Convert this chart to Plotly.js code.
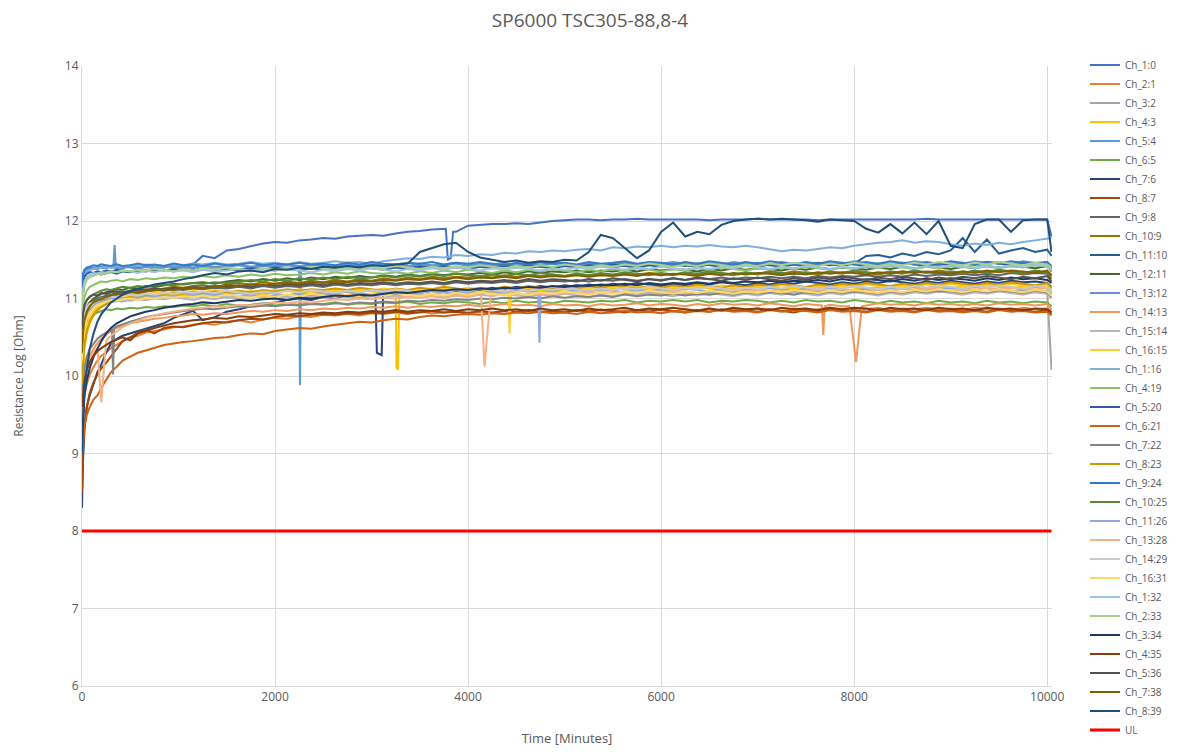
<!DOCTYPE html>
<html>
<head>
<meta charset="utf-8">
<script src="https://cdn.plot.ly/plotly-3.0.1.min.js"></script>
<style>html,body{margin:0;padding:0;background:#fff;}#chart{width:1180px;height:754px;}</style>
</head>
<body>
<div id="chart"></div>
<script>
// Time axis (minutes)
const time = [0,10,25,50,80,120,160,200,250,300,
360,420,500,580,660,750,850,950,1050,1150,
1250,1375,1500,1625,1750,1875,2000,2125,
2250,2375,2500,2625,2750,2875,3000,3125,
3250,3375,3500,3625,3750,3875,4000,4125,
4250,4375,4500,4625,4750,4875,5000,5125,
5250,5375,5500,5625,5750,5875,6000,6125,
6250,6375,6500,6625,6750,6875,7000,7125,
7250,7375,7500,7625,7750,7875,8000,8125,
8250,8375,8500,8625,8750,8875,9000,9125,
9250,9375,9500,9625,9750,9875,10000,10045];

const ch1_0 = [11.05,11.3,11.36,11.38,11.4,11.38,11.41,11.39,11.42,11.4,
11.41,11.39,11.42,11.4,11.43,11.41,11.4,11.43,11.42,11.44,
11.55,11.52,11.62,11.64,11.68,11.71,11.73,11.72,
11.75,11.76,11.78,11.77,11.8,11.81,11.82,11.81,
11.84,11.86,11.87,11.89,11.9,11.86,11.94,11.95,
11.96,11.96,11.97,11.96,11.98,12.0,12.01,12.02,
12.02,12.01,12.02,12.02,12.03,12.02,12.02,12.02,
12.02,12.02,12.01,12.02,12.02,12.02,12.03,12.02,
12.02,12.02,12.02,12.01,12.02,12.02,12.02,12.02,
12.02,12.02,12.02,12.02,12.03,12.02,12.02,12.02,
12.02,12.02,12.02,12.02,12.02,12.02,12.02,11.8];
const ch2_1 = [9.3,9.55,9.75,9.9,10.02,10.12,10.2,10.26,10.3,10.36,
10.4,10.45,10.5,10.52,10.56,10.58,10.6,10.63,10.64,10.66,
10.68,10.66,10.7,10.72,10.69,10.73,10.75,10.74,
10.77,10.76,10.79,10.78,10.8,10.78,10.81,10.8,
10.82,10.8,10.83,10.81,10.82,10.84,10.82,10.83,
10.81,10.84,10.83,10.85,10.82,10.84,10.83,10.85,
10.84,10.86,10.83,10.85,10.84,10.86,10.85,10.83,
10.86,10.85,10.87,10.84,10.86,10.85,10.87,10.86,
10.84,10.87,10.85,10.86,10.88,10.85,10.87,10.86,
10.88,10.85,10.87,10.86,10.88,10.86,10.87,10.85,
10.88,10.86,10.87,10.85,10.88,10.86,10.87,10.84];
const ch3_2 = [10.0,10.3,10.5,10.65,10.75,10.82,10.87,10.9,10.93,10.95,
10.97,10.96,10.99,11.0,10.98,11.01,11.0,11.02,11.01,11.03,
11.02,11.04,11.01,11.03,11.05,11.02,11.04,11.03,
11.05,11.03,11.06,11.04,11.05,11.07,11.04,11.06,
11.05,11.07,11.04,11.06,11.08,11.05,11.07,11.06,
11.08,11.06,11.07,11.05,11.08,11.06,11.09,11.07,
11.06,11.08,11.07,11.09,11.06,11.08,11.07,11.09,
11.08,11.06,11.09,11.07,11.08,11.1,11.07,11.09,
11.08,11.1,11.07,11.09,11.08,11.1,11.08,11.09,
11.07,11.1,11.08,11.09,11.11,11.08,11.1,11.09,
11.11,11.08,11.1,11.09,11.11,11.09,11.1,10.08];
const ch4_3 = [9.8,10.1,10.35,10.55,10.68,10.78,10.85,10.9,10.93,10.96,
10.98,11.0,11.02,11.01,11.03,11.05,11.03,11.06,11.04,11.07,
11.05,11.08,11.06,11.09,11.07,11.05,11.08,11.1,
11.07,11.09,11.06,11.1,11.08,11.11,11.09,11.07,
11.1,11.08,11.11,11.09,11.12,11.1,11.08,11.11,
11.09,11.12,11.1,11.13,11.11,11.09,11.12,11.1,
11.13,11.11,11.14,11.12,11.1,11.13,11.11,11.14,
11.12,11.15,11.13,11.11,11.14,11.12,11.15,11.13,
11.11,11.14,11.12,11.15,11.13,11.16,11.14,11.12,
11.15,11.13,11.16,11.14,11.12,11.15,11.13,11.16,
11.14,11.17,11.15,11.13,11.16,11.14,11.17,11.1];
const ch5_4 = [10.9,11.2,11.3,11.36,11.38,11.4,11.39,11.41,11.4,11.42,
11.4,11.42,11.41,11.43,11.4,11.42,11.41,11.43,11.42,11.4,
11.43,11.41,11.42,11.44,11.41,11.43,11.42,11.44,
11.42,11.44,11.43,11.41,11.44,11.42,11.45,11.43,
11.44,11.42,11.45,11.43,11.44,11.46,11.43,11.45,
11.44,11.46,11.43,11.45,11.44,11.46,11.45,11.43,
11.46,11.44,11.45,11.47,11.44,11.46,11.45,11.47,
11.45,11.43,11.46,11.44,11.47,11.45,11.46,11.44,
11.47,11.45,11.46,11.44,11.47,11.45,11.48,11.46,
11.44,11.47,11.45,11.48,11.46,11.44,11.47,11.45,
11.48,11.46,11.47,11.45,11.48,11.46,11.47,11.4];
const ch6_5 = [10.3,10.5,10.62,10.7,10.75,10.8,10.82,10.84,10.86,10.85,
10.87,10.86,10.88,10.87,10.89,10.88,10.9,10.89,10.91,10.9,
10.92,10.9,10.93,10.91,10.92,10.94,10.91,10.93,
10.92,10.94,10.93,10.95,10.92,10.94,10.93,10.95,
10.94,10.96,10.93,10.95,10.94,10.96,10.95,10.93,
10.96,10.94,10.97,10.95,10.96,10.94,10.97,10.96,
10.95,10.97,10.96,10.98,10.95,10.97,10.96,10.98,
10.96,10.98,10.95,10.97,10.96,10.98,10.97,10.95,
10.97,10.95,10.98,10.96,10.97,10.95,10.98,10.96,
10.94,10.97,10.95,10.96,10.94,10.97,10.95,10.96,
10.94,10.97,10.95,10.96,10.94,10.96,10.95,10.9];
const ch7_6 = [8.3,8.9,9.3,9.6,9.75,9.9,10.05,10.15,10.3,10.42,
10.48,10.52,10.55,10.58,10.6,10.64,10.68,10.75,10.8,10.84,
10.72,10.76,10.83,10.86,10.9,10.93,10.95,10.98,
11.0,10.98,11.02,11.01,11.04,11.02,11.05,11.08,
11.06,11.09,11.07,11.1,11.12,11.1,11.13,11.11,
11.14,11.12,11.15,11.13,11.16,11.14,11.17,11.15,
11.18,11.16,11.19,11.17,11.2,11.18,11.16,11.19,
11.17,11.2,11.18,11.21,11.19,11.17,11.2,11.18,
11.21,11.19,11.22,11.2,11.18,11.21,11.19,11.22,
11.2,11.23,11.21,11.19,11.22,11.2,11.23,11.21,
11.19,11.22,11.2,11.23,11.21,11.22,11.2,11.15];
const ch8_7 = [8.5,9.0,9.35,9.6,9.78,9.92,10.02,10.1,10.17,10.25,
10.35,10.45,10.5,10.56,10.6,10.55,10.62,10.64,10.63,10.66,
10.68,10.7,10.69,10.72,10.74,10.73,10.76,10.78,
10.77,10.79,10.8,10.79,10.81,10.8,10.82,10.81,
10.83,10.81,10.82,10.84,10.82,10.83,10.81,10.84,
10.82,10.84,10.83,10.85,10.83,10.84,10.82,10.85,
10.83,10.85,10.84,10.82,10.85,10.83,10.86,10.84,
10.82,10.85,10.83,10.86,10.84,10.85,10.83,10.86,
10.84,10.82,10.85,10.83,10.86,10.84,10.85,10.83,
10.86,10.84,10.85,10.83,10.86,10.84,10.85,10.83,
10.85,10.83,10.86,10.84,10.85,10.83,10.85,10.8];
const ch9_8 = [10.5,10.7,10.82,10.9,10.95,10.98,11.0,11.02,11.04,11.05,
11.07,11.06,11.08,11.1,11.09,11.11,11.1,11.12,11.11,11.13,
11.12,11.14,11.13,11.15,11.13,11.16,11.14,11.16,
11.15,11.17,11.15,11.18,11.16,11.18,11.17,11.19,
11.17,11.19,11.18,11.2,11.18,11.21,11.19,11.21,
11.2,11.22,11.2,11.23,11.21,11.23,11.22,11.24,
11.22,11.24,11.23,11.25,11.23,11.25,11.24,11.26,
11.24,11.26,11.25,11.27,11.25,11.27,11.26,11.28,
11.26,11.28,11.26,11.29,11.27,11.29,11.28,11.3,
11.28,11.3,11.28,11.31,11.29,11.31,11.3,11.32,
11.3,11.32,11.3,11.33,11.31,11.33,11.32,11.25];
const ch10_9 = [10.2,10.45,10.62,10.75,10.84,10.9,10.95,10.98,11.0,11.03,
11.05,11.07,11.09,11.1,11.12,11.11,11.13,11.15,11.14,11.16,
11.17,11.15,11.18,11.2,11.18,11.21,11.19,11.22,
11.2,11.23,11.21,11.24,11.22,11.25,11.23,11.26,
11.24,11.27,11.25,11.28,11.26,11.28,11.27,11.29,
11.27,11.3,11.28,11.3,11.29,11.31,11.29,11.32,
11.3,11.32,11.3,11.33,11.31,11.33,11.32,11.3,
11.33,11.31,11.34,11.32,11.3,11.33,11.31,11.34,
11.32,11.35,11.33,11.31,11.34,11.32,11.35,11.33,
11.31,11.34,11.32,11.35,11.33,11.36,11.34,11.32,
11.35,11.33,11.36,11.34,11.32,11.35,11.33,11.28];
const ch11_10 = [10.8,11.05,11.18,11.25,11.28,11.3,11.32,11.31,11.33,11.34,
11.32,11.35,11.34,11.36,11.35,11.37,11.36,11.38,11.37,11.36,
11.38,11.36,11.39,11.37,11.4,11.38,11.36,11.39,
11.37,11.4,11.38,11.41,11.39,11.37,11.4,11.38,
11.41,11.39,11.42,11.4,11.38,11.41,11.39,11.42,
11.4,11.43,11.41,11.39,11.42,11.4,11.43,11.41,
11.44,11.42,11.4,11.43,11.41,11.44,11.42,11.45,
11.43,11.41,11.44,11.42,11.45,11.43,11.41,11.44,
11.42,11.45,11.43,11.46,11.44,11.42,11.45,11.55,
11.56,11.53,11.58,11.55,11.6,11.57,11.62,11.78,
11.6,11.76,11.58,11.62,11.65,11.6,11.63,11.55];
const ch12_11 = [10.4,10.62,10.78,10.88,10.95,11.0,11.03,11.06,11.08,11.1,
11.12,11.11,11.14,11.13,11.16,11.15,11.17,11.19,11.18,11.2,
11.21,11.19,11.22,11.24,11.22,11.25,11.23,11.26,
11.24,11.27,11.25,11.28,11.26,11.29,11.27,11.3,
11.28,11.31,11.29,11.32,11.3,11.32,11.31,11.33,
11.31,11.34,11.32,11.35,11.33,11.35,11.34,11.36,
11.34,11.36,11.35,11.37,11.35,11.38,11.36,11.38,
11.37,11.35,11.38,11.36,11.39,11.37,11.39,11.38,
11.36,11.39,11.37,11.4,11.38,11.4,11.39,11.37,
11.4,11.38,11.41,11.39,11.41,11.4,11.38,11.41,
11.39,11.42,11.4,11.42,11.41,11.39,11.42,11.35];
const ch13_12 = [11.1,11.28,11.33,11.36,11.37,11.39,11.38,11.4,11.39,11.41,
11.39,11.41,11.4,11.38,11.41,11.39,11.42,11.4,11.41,11.39,
11.42,11.4,11.41,11.43,11.4,11.42,11.41,11.43,
11.41,11.43,11.42,11.4,11.43,11.41,11.44,11.42,
11.43,11.41,11.44,11.42,11.43,11.45,11.42,11.44,
11.43,11.45,11.42,11.44,11.43,11.45,11.44,11.42,
11.45,11.43,11.44,11.46,11.43,11.45,11.44,11.46,
11.44,11.42,11.45,11.43,11.46,11.44,11.45,11.43,
11.46,11.44,11.45,11.43,11.46,11.44,11.47,11.45,
11.43,11.46,11.44,11.47,11.45,11.43,11.46,11.44,
11.47,11.45,11.46,11.44,11.47,11.45,11.46,11.38];
const ch14_13 = [9.5,9.8,10.0,10.15,10.25,10.35,10.42,10.48,10.53,10.58,
10.62,10.65,10.68,10.7,10.72,10.74,10.75,10.77,10.78,10.8,
10.79,10.81,10.8,10.82,10.84,10.83,10.85,10.84,
10.86,10.85,10.87,10.86,10.88,10.87,10.89,10.88,
10.9,10.88,10.9,10.89,10.91,10.9,10.92,10.9,
10.91,10.93,10.91,10.92,10.9,10.93,10.91,10.92,
10.9,10.93,10.91,10.92,10.94,10.91,10.93,10.92,
10.9,10.93,10.91,10.94,10.92,10.93,10.91,10.94,
10.92,10.9,10.93,10.91,10.92,10.9,10.35,10.91,
10.94,10.92,10.93,10.91,10.94,10.92,10.93,10.91,
10.93,10.91,10.94,10.92,10.93,10.91,10.93,10.86];
const ch15_14 = [10.6,10.78,10.86,10.9,10.93,10.95,10.94,10.96,10.95,10.97,
10.96,10.98,10.97,10.99,10.98,11.0,10.99,11.01,11.0,10.98,
11.01,10.99,11.02,11.0,11.03,11.01,10.99,11.02,
11.0,11.03,11.01,11.04,11.02,11.0,11.03,11.01,
11.04,11.02,11.05,11.03,11.01,11.04,11.02,11.05,
11.03,11.06,11.04,11.02,11.05,11.03,11.06,11.04,
11.02,11.05,11.03,11.06,11.04,11.07,11.05,11.03,
11.06,11.04,11.07,11.05,11.03,11.06,11.04,11.07,
11.05,11.08,11.06,11.04,11.07,11.05,11.08,11.06,
11.04,11.07,11.05,11.08,11.06,11.09,11.07,11.05,
11.08,11.06,11.09,11.07,11.05,11.08,11.06,11.0];
const ch16_15 = [10.0,10.3,10.5,10.65,10.76,10.84,10.9,10.94,10.97,11.0,
11.02,11.04,11.03,11.06,11.05,11.08,11.06,11.09,11.07,11.1,
11.08,11.11,11.09,11.07,11.1,11.08,11.11,11.09,
11.12,11.1,11.08,11.11,11.09,11.12,11.1,11.13,
11.11,11.09,11.12,11.1,11.13,11.11,11.14,11.12,
11.1,11.13,11.11,11.14,11.12,11.15,11.13,11.11,
11.14,11.12,11.15,11.13,11.16,11.14,11.12,11.15,
11.13,11.16,11.14,11.17,11.15,11.13,11.16,11.14,
11.17,11.15,11.13,11.16,11.14,11.17,11.15,11.18,
11.16,11.14,11.17,11.15,11.18,11.16,11.19,11.17,
11.15,11.18,11.16,11.19,11.17,11.15,11.18,11.12];
const ch1_16 = [10.95,11.2,11.3,11.35,11.37,11.38,11.4,11.39,11.41,11.4,
11.42,11.41,11.43,11.42,11.44,11.43,11.42,11.44,11.43,11.45,
11.44,11.46,11.44,11.45,11.47,11.45,11.46,11.44,
11.47,11.45,11.46,11.48,11.46,11.47,11.45,11.48,
11.5,11.52,11.51,11.54,11.53,11.56,11.55,11.57,
11.56,11.59,11.58,11.61,11.6,11.62,11.61,11.63,
11.64,11.62,11.66,11.65,11.67,11.66,11.68,11.66,
11.68,11.67,11.69,11.67,11.66,11.68,11.66,11.63,
11.61,11.63,11.62,11.64,11.66,11.65,11.68,11.7,
11.72,11.73,11.75,11.72,11.74,11.73,11.7,11.68,
11.71,11.69,11.72,11.7,11.73,11.75,11.77,11.78];
const ch4_19 = [10.7,10.9,11.02,11.1,11.15,11.18,11.2,11.22,11.21,11.23,
11.24,11.22,11.25,11.24,11.26,11.25,11.27,11.26,11.28,11.27,
11.29,11.27,11.3,11.28,11.31,11.29,11.32,11.3,
11.31,11.33,11.31,11.34,11.32,11.35,11.33,11.32,
11.34,11.32,11.35,11.33,11.36,11.34,11.37,11.35,
11.33,11.36,11.34,11.37,11.35,11.38,11.36,11.34,
11.37,11.35,11.38,11.36,11.39,11.37,11.35,11.38,
11.36,11.39,11.37,11.4,11.38,11.36,11.39,11.37,
11.4,11.38,11.41,11.39,11.37,11.4,11.38,11.41,
11.39,11.42,11.4,11.38,11.41,11.39,11.42,11.4,
11.43,11.41,11.39,11.42,11.4,11.43,11.41,11.36];
const ch5_20 = [11.0,11.2,11.28,11.32,11.34,11.33,11.35,11.34,11.36,11.35,
11.37,11.36,11.35,11.37,11.36,11.38,11.37,11.35,11.38,11.36,
11.39,11.37,11.38,11.36,11.39,11.37,11.4,11.38,
11.36,11.39,11.37,11.4,11.38,11.41,11.39,11.37,
11.4,11.38,11.41,11.39,11.42,11.4,11.38,11.41,
11.39,11.42,11.4,11.43,11.41,11.39,11.42,11.4,
11.43,11.41,11.44,11.42,11.4,11.43,11.41,11.44,
11.42,11.45,11.43,11.41,11.44,11.42,11.45,11.43,
11.41,11.44,11.42,11.45,11.43,11.46,11.44,11.42,
11.45,11.43,11.46,11.44,11.42,11.45,11.43,11.46,
11.44,11.47,11.45,11.43,11.46,11.44,11.47,11.4];
const ch6_21 = [9.0,9.2,9.35,9.5,9.6,9.7,9.75,9.85,9.95,10.05,
10.12,10.2,10.25,10.3,10.33,10.36,10.4,10.42,10.44,10.45,
10.47,10.49,10.5,10.53,10.55,10.54,10.58,10.6,
10.62,10.61,10.64,10.66,10.68,10.7,10.69,10.72,
10.74,10.73,10.76,10.78,10.77,10.79,10.8,10.79,
10.81,10.8,10.82,10.81,10.83,10.81,10.82,10.8,
10.83,10.81,10.82,10.84,10.82,10.83,10.81,10.84,
10.82,10.84,10.83,10.85,10.83,10.84,10.82,10.85,
10.83,10.85,10.84,10.82,10.85,10.83,10.84,10.82,
10.85,10.83,10.84,10.82,10.85,10.83,10.84,10.82,
10.84,10.82,10.85,10.83,10.84,10.82,10.83,10.78];
const ch7_22 = [9.6,9.9,10.1,10.25,10.35,10.42,10.48,10.52,10.56,10.6,
10.64,10.67,10.7,10.73,10.76,10.78,10.8,10.82,10.84,10.85,
10.87,10.86,10.88,10.9,10.89,10.91,10.9,10.92,
10.91,10.93,10.92,10.94,10.93,10.95,10.94,10.96,
10.95,10.97,10.96,10.98,10.97,10.99,10.98,11.0,
10.99,11.01,11.0,11.02,11.0,11.03,11.01,11.03,
11.02,11.04,11.02,11.05,11.03,11.05,11.04,11.06,
11.04,11.06,11.05,11.07,11.05,11.08,11.06,11.08,
11.07,11.05,11.08,11.06,11.09,11.07,11.09,11.08,
11.06,11.09,11.07,11.1,11.08,11.1,11.09,11.07,
11.1,11.08,11.11,11.09,11.07,11.1,11.08,11.02];
const ch8_23 = [9.9,10.2,10.42,10.58,10.7,10.79,10.85,10.89,10.93,10.96,
10.98,11.0,11.02,11.01,11.04,11.03,11.05,11.07,11.06,11.08,
11.07,11.09,11.08,11.1,11.08,11.11,11.09,11.12,
11.1,11.12,11.11,11.13,11.11,11.14,11.12,11.1,
11.13,11.11,11.14,11.12,11.15,11.13,11.11,11.14,
11.12,11.15,11.13,11.16,11.14,11.12,11.15,11.13,
11.16,11.14,11.17,11.15,11.13,11.16,11.14,11.17,
11.15,11.18,11.16,11.14,11.17,11.15,11.18,11.16,
11.19,11.17,11.15,11.18,11.16,11.19,11.17,11.2,
11.18,11.16,11.19,11.17,11.2,11.18,11.21,11.19,
11.17,11.2,11.18,11.21,11.19,11.17,11.2,11.14];
const ch9_24 = [11.2,11.32,11.37,11.4,11.41,11.43,11.42,11.44,11.43,11.42,
11.44,11.42,11.43,11.45,11.43,11.44,11.42,11.45,11.43,11.44,
11.42,11.45,11.43,11.44,11.46,11.43,11.45,11.44,
11.46,11.44,11.45,11.43,11.46,11.44,11.47,11.45,
11.44,11.46,11.45,11.47,11.44,11.46,11.45,11.47,
11.45,11.43,11.46,11.44,11.47,11.45,11.46,11.44,
11.47,11.45,11.46,11.48,11.45,11.47,11.46,11.44,
11.47,11.45,11.48,11.46,11.44,11.47,11.45,11.48,
11.46,11.44,11.47,11.45,11.48,11.46,11.44,11.47,
11.45,11.48,11.46,11.44,11.47,11.45,11.48,11.46,
11.44,11.47,11.45,11.48,11.46,11.44,11.47,11.42];
const ch10_25 = [10.5,10.75,10.9,10.98,11.03,11.06,11.08,11.1,11.12,11.11,
11.13,11.15,11.14,11.16,11.15,11.17,11.18,11.17,11.19,11.2,
11.19,11.21,11.2,11.22,11.24,11.22,11.25,11.23,
11.26,11.24,11.27,11.25,11.28,11.26,11.27,11.29,
11.27,11.3,11.28,11.31,11.29,11.32,11.3,11.28,
11.31,11.29,11.32,11.3,11.33,11.31,11.29,11.32,
11.3,11.33,11.31,11.34,11.32,11.3,11.33,11.31,
11.34,11.32,11.35,11.33,11.31,11.34,11.32,11.35,
11.33,11.31,11.34,11.32,11.35,11.33,11.36,11.34,
11.32,11.35,11.33,11.36,11.34,11.32,11.35,11.33,
11.36,11.34,11.37,11.35,11.33,11.36,11.34,11.3];
const ch11_26 = [10.3,10.55,10.7,10.8,10.87,10.91,10.94,10.96,10.98,11.0,
10.99,11.01,11.0,11.02,11.01,11.03,11.02,11.04,11.03,11.05,
11.04,11.06,11.05,11.07,11.05,11.08,11.06,11.04,
11.07,11.05,11.08,11.06,11.09,11.07,11.05,11.08,
11.06,11.09,11.07,11.1,11.08,11.06,11.09,11.07,
11.1,11.08,11.11,11.09,11.07,11.1,11.08,11.11,
11.09,11.12,11.1,11.08,11.11,11.09,11.12,11.1,
11.13,11.11,11.09,11.12,11.1,11.13,11.11,11.14,
11.12,11.1,11.13,11.11,11.14,11.12,11.1,11.13,
11.11,11.14,11.12,11.15,11.13,11.11,11.14,11.12,
11.15,11.13,11.11,11.14,11.12,11.15,11.13,11.06];
const ch13_28 = [9.4,9.7,9.95,10.1,10.22,10.3,10.36,9.66,10.45,10.52,
10.58,10.63,10.68,10.72,10.75,10.78,10.81,10.83,10.85,10.87,
10.88,10.9,10.89,10.92,10.91,10.93,10.95,10.94,
10.96,10.95,10.97,10.99,10.98,11.0,10.99,11.01,
11.0,11.02,11.01,11.03,11.02,11.04,11.03,11.05,
11.04,11.06,11.04,11.07,11.05,11.07,11.06,11.08,
11.06,11.08,11.07,11.09,11.07,11.1,11.08,11.1,
11.09,11.07,11.1,11.08,11.11,11.09,11.11,11.1,
11.08,11.11,11.09,11.12,11.1,11.12,11.11,11.09,
11.12,11.1,11.13,11.11,11.13,11.12,11.1,11.13,
11.11,11.14,11.12,11.14,11.13,11.11,11.14,11.08];
const ch14_29 = [10.4,10.65,10.8,10.88,10.93,10.96,10.98,11.0,11.01,11.03,
11.02,11.04,11.05,11.04,11.06,11.05,11.07,11.06,11.08,11.07,
11.09,11.07,11.1,11.08,11.06,11.09,11.07,11.1,
11.08,11.11,11.09,11.07,11.1,11.08,11.11,11.09,
11.12,11.1,11.08,11.11,11.09,11.12,11.1,11.13,
11.11,11.09,11.12,11.1,11.13,11.11,11.14,11.12,
11.1,11.13,11.11,11.14,11.12,11.15,11.13,11.11,
11.14,11.12,11.15,11.13,11.11,11.14,11.12,11.15,
11.13,11.16,11.14,11.12,11.15,11.13,11.16,11.14,
11.12,11.15,11.13,11.16,11.14,11.17,11.15,11.13,
11.16,11.14,11.17,11.15,11.13,11.16,11.14,11.08];
const ch16_31 = [10.2,10.45,10.62,10.74,10.82,10.88,10.92,10.94,10.96,10.98,
10.97,10.99,11.0,10.98,11.01,11.0,11.02,11.01,11.03,11.02,
11.04,11.02,11.05,11.03,11.01,11.04,11.02,11.05,
11.03,11.06,11.04,11.02,11.05,11.03,11.06,11.04,
11.07,11.05,11.03,11.06,11.04,11.07,11.05,11.08,
11.06,11.04,11.07,11.05,11.08,11.06,11.09,11.07,
11.05,11.08,11.06,11.09,11.07,11.1,11.08,11.06,
11.09,11.07,11.1,11.08,11.06,11.09,11.07,11.1,
11.08,11.11,11.09,11.07,11.1,11.08,11.11,11.09,
11.07,11.1,11.08,11.11,11.09,11.12,11.1,11.08,
11.11,11.09,11.12,11.1,11.08,11.11,11.09,11.03];
const ch1_32 = [10.9,11.12,11.22,11.28,11.31,11.33,11.32,11.34,11.33,11.35,
11.34,11.36,11.35,11.33,11.36,11.34,11.37,11.35,11.36,11.34,
11.37,11.35,11.36,11.38,11.35,11.37,11.36,11.38,
11.36,11.34,11.37,11.35,11.38,11.36,11.39,11.37,
11.35,11.38,11.36,11.39,11.37,11.4,11.38,11.36,
11.39,11.37,11.4,11.38,11.36,11.39,11.37,11.4,
11.38,11.41,11.39,11.37,11.4,11.38,11.41,11.39,
11.37,11.4,11.38,11.41,11.39,11.42,11.4,11.38,
11.41,11.39,11.42,11.4,11.38,11.41,11.39,11.42,
11.4,11.43,11.41,11.39,11.42,11.4,11.43,11.41,
11.39,11.42,11.4,11.43,11.41,11.44,11.42,11.37];
const ch2_33 = [10.8,11.05,11.17,11.24,11.28,11.3,11.32,11.31,11.33,11.35,
11.34,11.36,11.35,11.37,11.36,11.38,11.37,11.35,11.38,11.36,
11.39,11.37,11.4,11.38,11.36,11.39,11.37,11.4,
11.38,11.41,11.39,11.37,11.4,11.38,11.41,11.39,
11.42,11.4,11.38,11.41,11.39,11.42,11.4,11.43,
11.41,11.39,11.42,11.4,11.43,11.41,11.44,11.42,
11.4,11.43,11.41,11.44,11.42,11.45,11.43,11.41,
11.44,11.42,11.45,11.43,11.41,11.44,11.42,11.45,
11.43,11.46,11.44,11.42,11.45,11.43,11.46,11.44,
11.42,11.45,11.43,11.46,11.44,11.47,11.45,11.43,
11.46,11.44,11.47,11.45,11.43,11.46,11.44,11.4];
const ch3_34 = [9.2,9.5,9.75,9.95,10.1,10.25,10.35,10.45,10.55,10.62,
10.68,10.72,10.77,10.8,10.83,10.85,10.88,10.9,10.92,10.93,
10.95,10.94,10.96,10.98,10.97,10.99,11.0,10.98,
11.01,11.0,11.02,11.04,11.03,11.05,11.04,11.06,
11.08,11.07,11.09,11.11,11.1,11.12,11.11,11.13,
11.12,11.14,11.13,11.15,11.14,11.16,11.15,11.17,
11.16,11.18,11.17,11.19,11.17,11.2,11.18,11.2,
11.19,11.21,11.19,11.22,11.2,11.22,11.21,11.23,
11.21,11.23,11.22,11.24,11.22,11.25,11.23,11.25,
11.24,11.22,11.25,11.23,11.26,11.24,11.26,11.25,
11.23,11.26,11.24,11.27,11.25,11.26,11.24,11.2];
const ch4_35 = [9.6,9.8,9.95,10.08,10.18,10.26,10.32,10.36,10.4,10.44,
10.47,10.5,10.46,10.55,10.58,10.62,10.65,10.68,10.7,10.72,
10.73,10.75,10.74,10.77,10.76,10.78,10.8,10.79,
10.81,10.8,10.82,10.81,10.83,10.82,10.84,10.83,
10.85,10.83,10.85,10.84,10.86,10.84,10.86,10.85,
10.87,10.85,10.86,10.84,10.87,10.85,10.86,10.84,
10.87,10.85,10.86,10.88,10.85,10.87,10.86,10.88,
10.86,10.84,10.87,10.85,10.88,10.86,10.87,10.85,
10.88,10.86,10.87,10.85,10.88,10.86,10.88,10.87,
10.85,10.88,10.86,10.87,10.85,10.88,10.86,10.87,
10.85,10.88,10.86,10.87,10.85,10.87,10.86,10.82];
const ch5_36 = [10.6,10.8,10.92,10.98,11.02,11.05,11.04,11.07,11.06,11.08,
11.09,11.08,11.1,11.12,11.11,11.13,11.12,11.14,11.13,11.15,
11.14,11.16,11.15,11.17,11.15,11.18,11.16,11.18,
11.17,11.19,11.17,11.2,11.18,11.2,11.19,11.21,
11.19,11.21,11.2,11.22,11.2,11.23,11.21,11.23,
11.22,11.24,11.22,11.25,11.23,11.25,11.24,11.22,
11.25,11.23,11.26,11.24,11.22,11.25,11.23,11.26,
11.24,11.27,11.25,11.23,11.26,11.24,11.27,11.25,
11.23,11.26,11.24,11.27,11.25,11.28,11.26,11.24,
11.27,11.25,11.28,11.26,11.24,11.27,11.25,11.28,
11.26,11.29,11.27,11.25,11.28,11.26,11.29,11.22];
const ch7_38 = [10.3,10.55,10.72,10.83,10.9,10.95,10.98,11.0,11.02,11.04,
11.06,11.05,11.08,11.07,11.09,11.1,11.12,11.11,11.13,11.14,
11.13,11.15,11.17,11.16,11.18,11.17,11.19,11.2,
11.19,11.21,11.2,11.22,11.21,11.23,11.22,11.24,
11.23,11.25,11.24,11.26,11.24,11.27,11.25,11.27,
11.26,11.28,11.26,11.29,11.27,11.29,11.28,11.3,
11.28,11.3,11.29,11.31,11.29,11.32,11.3,11.32,
11.31,11.29,11.32,11.3,11.33,11.31,11.33,11.32,
11.3,11.33,11.31,11.34,11.32,11.34,11.33,11.31,
11.34,11.32,11.35,11.33,11.35,11.34,11.32,11.35,
11.33,11.36,11.34,11.36,11.35,11.33,11.36,11.3];
const ch8_39 = [9.0,9.4,9.8,10.1,10.35,10.55,10.7,10.8,10.88,10.95,
11.0,11.05,11.1,11.12,11.15,11.18,11.2,11.22,11.25,11.27,
11.3,11.33,11.31,11.35,11.36,11.34,11.38,11.37,
11.4,11.38,11.41,11.4,11.42,11.4,11.43,11.42,
11.44,11.45,11.6,11.65,11.7,11.72,11.6,11.53,
11.5,11.47,11.49,11.46,11.48,11.47,11.5,11.49,
11.6,11.82,11.78,11.65,11.52,11.62,11.86,11.98,
11.8,11.86,11.83,11.95,12.0,12.02,12.03,12.02,
12.03,12.02,12.01,11.99,12.02,12.01,12.0,11.9,
11.85,11.96,11.84,11.98,11.83,12.0,11.68,11.65,
11.96,12.02,12.02,11.86,12.01,12.02,12.02,11.6];

// Upper limit line
const ulTime = [0, 10045];
const ulValue = [8, 8];

const seriesNames = ['Ch_1:0','Ch_2:1','Ch_3:2','Ch_4:3','Ch_5:4','Ch_6:5','Ch_7:6','Ch_8:7','Ch_9:8','Ch_10:9',
'Ch_11:10','Ch_12:11','Ch_13:12','Ch_14:13','Ch_15:14','Ch_16:15','Ch_1:16','Ch_4:19','Ch_5:20','Ch_6:21',
'Ch_7:22','Ch_8:23','Ch_9:24','Ch_10:25','Ch_11:26','Ch_13:28','Ch_14:29','Ch_16:31','Ch_1:32','Ch_2:33',
'Ch_3:34','Ch_4:35','Ch_5:36','Ch_7:38','Ch_8:39'];
const seriesValues = [ch1_0,ch2_1,ch3_2,ch4_3,ch5_4,ch6_5,ch7_6,ch8_7,ch9_8,ch10_9,
ch11_10,ch12_11,ch13_12,ch14_13,ch15_14,ch16_15,ch1_16,ch4_19,ch5_20,ch6_21,
ch7_22,ch8_23,ch9_24,ch10_25,ch11_26,ch13_28,ch14_29,ch16_31,ch1_32,ch2_33,
ch3_34,ch4_35,ch5_36,ch7_38,ch8_39];

// Short excursions (dips / spikes)
const spikeName = ['Ch_1:0','Ch_4:3','Ch_5:4','Ch_5:4','Ch_7:6','Ch_14:13','Ch_14:13','Ch_16:15','Ch_7:22','Ch_11:26','Ch_13:28'];
const spikeT = [[3770,3790,3820,3845],[3240,3258,3272,3290],[325,338,350],[2245,2258,2270],[3040,3055,3105,3120],
[7665,7680,7695],[7950,8020,8080],[4415,4430,4445],[310,322,334],[4725,4740,4755],[4135,4170,4235]];
const spikeV = [[11.9,11.5,11.52,11.86],[11.09,10.12,10.08,11.1],[11.41,11.69,11.42],[11.43,9.88,11.42],[11.04,10.3,10.27,11.05],
[10.91,10.53,10.9],[10.9,10.18,10.9],[11.13,10.55,11.12],[10.6,10.02,10.62],[11.09,10.43,11.08],[11.03,10.12,11.04]];

const colors = ['#4472C4','#ED7D31','#A5A5A5','#FFC000','#5B9BD5','#70AD47','#264478','#9E480E','#636363','#997300',
'#255E91','#43682B','#698ED0','#F1975A','#B7B7B7','#FFCD33','#7CAFDD','#8CC168','#335AA1','#D26012',
'#848484','#CC9A00','#327DC2','#5A8A39','#8FAADC','#F4B183','#C9C9C9','#FFD966','#9DC3E6','#A9D18E',
'#203864','#843C0B','#525252','#7F6000','#1F4E79'];

const traces = seriesNames.map((name, k) => {
  const pts = time.map((t, i) => [t, seriesValues[k][i]]);
  spikeName.forEach((sn, j) => {
    if (sn === name) spikeT[j].forEach((t, m) => pts.push([t, spikeV[j][m]]));
  });
  pts.sort((a, b) => a[0] - b[0]);
  return {
    type: 'scatter', mode: 'lines', name: name,
    x: pts.map(p => p[0]), y: pts.map(p => p[1]),
    line: {color: colors[k], width: 2}
  };
});
traces.push({type: 'scatter', mode: 'lines', name: 'UL', x: ulTime, y: ulValue, line: {color: '#FF0000', width: 3}});

const font = 'Open Sans, Noto Sans, sans-serif';
const layout = {
  width: 1180, height: 754,
  margin: {l: 82, r: 128, t: 66, b: 68, autoexpand: false},
  paper_bgcolor: '#ffffff', plot_bgcolor: '#ffffff',
  font: {family: font, color: '#595959'},
  title: {text: 'SP6000 TSC305-88,8-4', font: {family: font, size: 19, color: '#595959'},
          x: 0.5, xref: 'container', y: 0.973, yref: 'container', yanchor: 'middle'},
  xaxis: {range: [0, 10050], tickvals: [0,2000,4000,6000,8000,10000], tickformat: 'd', showgrid: true, gridcolor: '#D9D9D9', gridwidth: 1,
          zeroline: false, showline: true, linecolor: '#D9D9D9', linewidth: 1, ticks: '', automargin: false,
          tickfont: {family: font, size: 12, color: '#595959'},
          title: {text: 'Time [Minutes]', font: {family: font, size: 13, color: '#595959'}, standoff: 29}},
  yaxis: {range: [6, 14], dtick: 1, showgrid: true, gridcolor: '#D9D9D9', gridwidth: 1,
          zeroline: false, showline: true, linecolor: '#D9D9D9', linewidth: 1, ticks: '', automargin: false,
          tickfont: {family: font, size: 12, color: '#595959'},
          title: {text: 'Resistance Log [Ohm]', font: {family: font, size: 12, color: '#595959'}, standoff: 38}},
  showlegend: true,
  legend: {x: 1.034, xanchor: 'left', y: 1.025, yanchor: 'top',
           font: {family: font, size: 10, color: '#595959'}, bgcolor: 'rgba(0,0,0,0)', borderwidth: 0,
           tracegroupgap: 0, traceorder: 'normal', maxheight: 740},
  hovermode: false
};
Plotly.newPlot('chart', traces, layout, {displayModeBar: false, staticPlot: true});
</script>
</body>
</html>
